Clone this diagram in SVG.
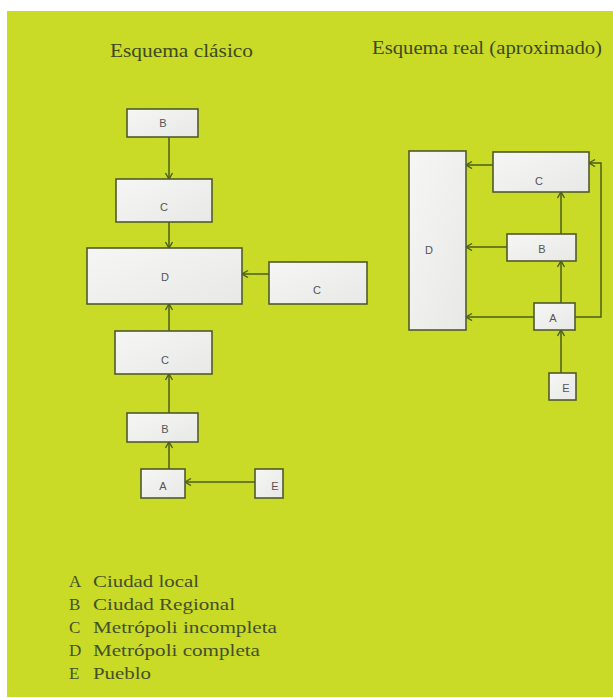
<svg xmlns="http://www.w3.org/2000/svg" width="613" height="698" viewBox="0 0 613 698">
<defs>
<marker id="arr" markerUnits="userSpaceOnUse" markerWidth="10" markerHeight="10" refX="7" refY="4" orient="auto">
<path d="M1,0.5 L7,4 L1,7.5" fill="none" stroke="#4a5e1c" stroke-width="1.4"/>
</marker>
<linearGradient id="bf" x1="0" y1="0" x2="1" y2="1">
<stop offset="0" stop-color="#f6f6f4"/>
<stop offset="1" stop-color="#e8e8e6"/>
</linearGradient>
</defs>
<style>
.box{fill:url(#bf);stroke:#505a2c;stroke-width:1.6}
.lbl{font-family:"Liberation Sans","DejaVu Sans",sans-serif;font-size:11px;fill:#555;text-anchor:middle}
.ttl{font-family:"Liberation Serif","DejaVu Serif",serif;font-size:18px;fill:#3e4a22}
.leg{font-family:"Liberation Serif","DejaVu Serif",serif;font-size:17px;fill:#44502a}
.cn{fill:none;stroke:#4a5e1c;stroke-width:1.5;marker-end:url(#arr)}
</style>
<rect x="7" y="11" width="606" height="687" fill="#c9da27"/>
<rect x="0" y="697" width="613" height="1" fill="#ffffff"/>
<text class="ttl" x="110" y="57" textLength="143" lengthAdjust="spacingAndGlyphs">Esquema clásico</text>
<text class="ttl" x="372" y="54" textLength="230" lengthAdjust="spacingAndGlyphs">Esquema real (aproximado)</text>

<g id="connectors">
<line class="cn" x1="169" y1="137" x2="169" y2="179"/>
<line class="cn" x1="169" y1="222" x2="169" y2="248"/>
<line class="cn" x1="269" y1="274" x2="242" y2="274"/>
<line class="cn" x1="169" y1="331" x2="169" y2="304"/>
<line class="cn" x1="169" y1="413" x2="169" y2="374"/>
<line class="cn" x1="169" y1="469" x2="169" y2="442"/>
<line class="cn" x1="255" y1="482" x2="185" y2="482"/>
<line class="cn" x1="493" y1="165" x2="466" y2="165"/>
<line class="cn" x1="507" y1="247" x2="466" y2="247"/>
<line class="cn" x1="534" y1="317" x2="466" y2="317"/>
<line class="cn" x1="561" y1="234" x2="561" y2="192"/>
<line class="cn" x1="561" y1="303" x2="561" y2="261"/>
<line class="cn" x1="561" y1="373" x2="561" y2="330"/>
<polyline class="cn" points="575,317 601,317 601,163 589,163"/>
</g>

<g id="L_B"><rect class="box" x="127" y="109" width="71" height="28"/><text class="lbl" x="163" y="127">B</text></g>
<g id="L_C1"><rect class="box" x="116" y="179" width="96" height="43"/><text class="lbl" x="164" y="211">C</text></g>
<g id="L_D"><rect class="box" x="87" y="248" width="155" height="56"/><text class="lbl" x="165" y="281">D</text></g>
<g id="L_C2"><rect class="box" x="269" y="262" width="98" height="42"/><text class="lbl" x="317" y="294">C</text></g>
<g id="L_C3"><rect class="box" x="115" y="331" width="97" height="43"/><text class="lbl" x="165" y="364">C</text></g>
<g id="L_B2"><rect class="box" x="127" y="413" width="71" height="29"/><text class="lbl" x="165" y="433">B</text></g>
<g id="L_A"><rect class="box" x="141" y="469" width="44" height="29"/><text class="lbl" x="163" y="490">A</text></g>
<g id="L_E"><rect class="box" x="255" y="469" width="28" height="29"/><text class="lbl" x="275" y="490">E</text></g>

<g id="R_D"><rect class="box" x="409" y="151" width="57" height="179"/><text class="lbl" x="429" y="254">D</text></g>
<g id="R_C"><rect class="box" x="493" y="152" width="96" height="40"/><text class="lbl" x="539" y="185">C</text></g>
<g id="R_B"><rect class="box" x="507" y="234" width="69" height="27"/><text class="lbl" x="542" y="253">B</text></g>
<g id="R_A"><rect class="box" x="534" y="303" width="41" height="27"/><text class="lbl" x="553" y="322">A</text></g>
<g id="R_E"><rect class="box" x="549" y="373" width="27" height="27"/><text class="lbl" x="566" y="392">E</text></g>

<g id="legend">
<text class="leg" x="69" y="587">A</text><text class="leg" x="93" y="587" textLength="106" lengthAdjust="spacingAndGlyphs">Ciudad local</text>
<text class="leg" x="69" y="610">B</text><text class="leg" x="93" y="610" textLength="142" lengthAdjust="spacingAndGlyphs">Ciudad Regional</text>
<text class="leg" x="69" y="633">C</text><text class="leg" x="93" y="633" textLength="184" lengthAdjust="spacingAndGlyphs">Metrópoli incompleta</text>
<text class="leg" x="69" y="656">D</text><text class="leg" x="93" y="656" textLength="167" lengthAdjust="spacingAndGlyphs">Metrópoli completa</text>
<text class="leg" x="69" y="679">E</text><text class="leg" x="93" y="679" textLength="58" lengthAdjust="spacingAndGlyphs">Pueblo</text>
</g>
</svg>
